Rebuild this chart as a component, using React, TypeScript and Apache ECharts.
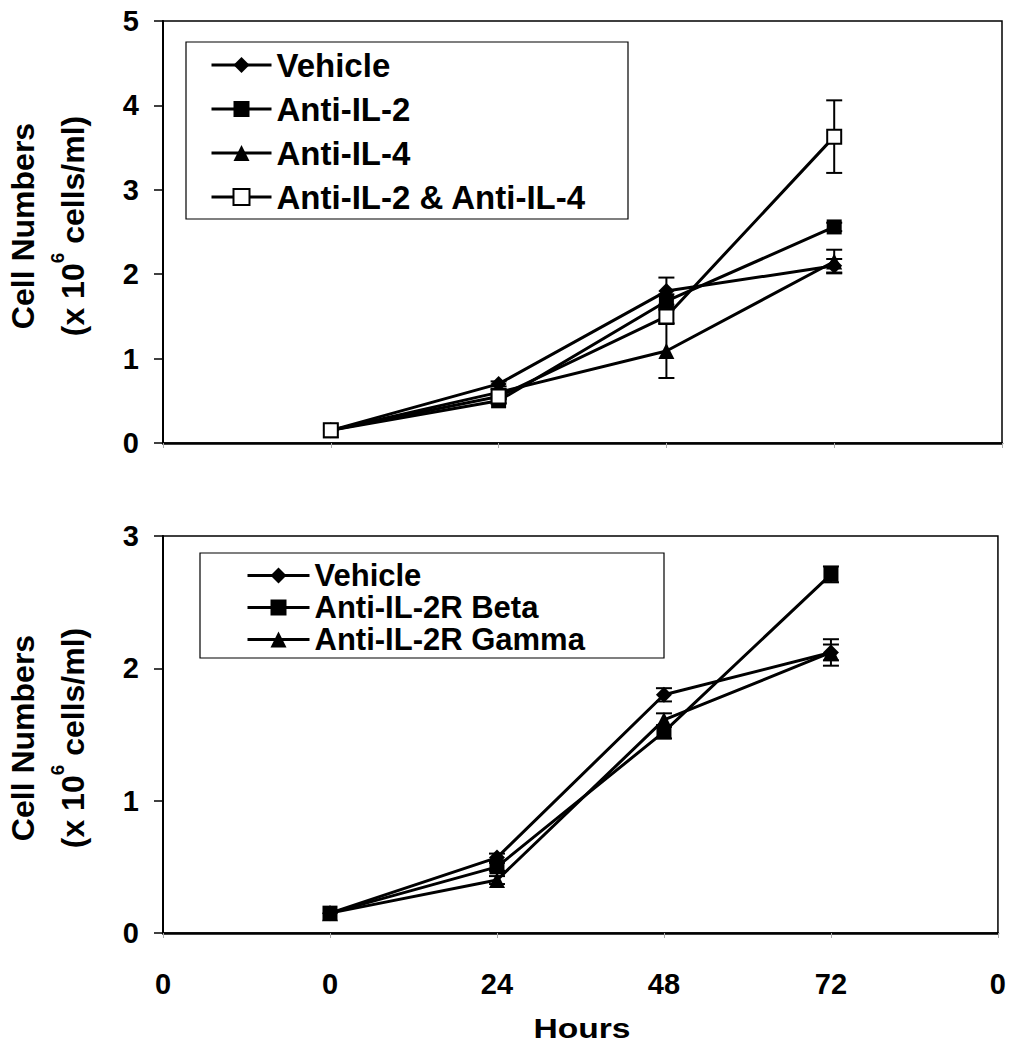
import React, { useEffect, useRef } from "react";
import * as echarts from "echarts";

const hours = ["0", "0", "24", "48", "72", "0"];

// Top panel (cell numbers, x10^6 cells/ml)
const vehicleTop = [null, 0.15, 0.7, 1.8, 2.1, null];
const antiIL2Top = [null, 0.15, 0.5, 1.68, 2.56, null];
const antiIL4Top = [null, 0.15, 0.6, 1.09, 2.15, null];
const comboTop = [null, 0.15, 0.55, 1.5, 3.63, null];
const vehicleTopErr = [0, 0, 0.03, 0.16, 0.08, 0];
const antiIL2TopErr = [0, 0, 0.03, 0.08, 0.05, 0];
const antiIL4TopErr = [0, 0, 0.04, 0.32, 0.14, 0];
const comboTopErr = [0, 0, 0.03, 0.08, 0.43, 0];

// Bottom panel
const vehicleBot = [null, 0.15, 0.57, 1.8, 2.12, null];
const betaBot = [null, 0.15, 0.5, 1.52, 2.71, null];
const gammaBot = [null, 0.15, 0.4, 1.61, 2.12, null];
const vehicleBotErr = [0, 0, 0.03, 0.05, 0.06, 0];
const betaBotErr = [0, 0, 0.03, 0.05, 0.06, 0];
const gammaBotErr = [0, 0, 0.03, 0.05, 0.1, 0];

const topLegend = ["Vehicle", "Anti-IL-2", "Anti-IL-4", "Anti-IL-2 & Anti-IL-4"];
const botLegend = ["Vehicle", "Anti-IL-2R Beta", "Anti-IL-2R Gamma"];

const FONT = "'Liberation Sans', Arial, Helvetica, sans-serif";

function lineSeries(name: string, data: (number | null)[], axis: number, symbol: string, size: number, hollow = false) {
  return {
    type: "line",
    name,
    xAxisIndex: axis,
    yAxisIndex: axis,
    data,
    symbol,
    symbolSize: size,
    showAllSymbol: true,
    connectNulls: false,
    z: 3,
    lineStyle: { color: "#000", width: 3 },
    itemStyle: hollow
      ? { color: "#fff", borderColor: "#000", borderWidth: 2 }
      : { color: "#000", borderColor: "#000", borderWidth: 0 },
  };
}

function errSeries(name: string, data: (number | null)[], err: number[], axis: number, capHalf: number) {
  const pts: number[][] = [];
  data.forEach((v, i) => {
    if (v != null && err[i] > 0) pts.push([i, v, err[i]]);
  });
  return {
    type: "custom",
    name,
    xAxisIndex: axis,
    yAxisIndex: axis,
    z: 2,
    silent: true,
    data: pts,
    renderItem: (params: any, api: any) => {
      const x = api.value(0);
      const v = api.value(1);
      const e = api.value(2);
      const hi = api.coord([x, v + e]);
      const lo = api.coord([x, v - e]);
      const st = { stroke: "#000", lineWidth: 2 };
      return {
        type: "group",
        children: [
          { type: "line", shape: { x1: hi[0], y1: hi[1], x2: lo[0], y2: lo[1] }, style: st },
          { type: "line", shape: { x1: hi[0] - capHalf, y1: hi[1], x2: hi[0] + capHalf, y2: hi[1] }, style: st },
          { type: "line", shape: { x1: lo[0] - capHalf, y1: lo[1], x2: lo[0] + capHalf, y2: lo[1] }, style: st },
        ],
      };
    },
  };
}

function xAxis(grid: number, showLabels: boolean) {
  return {
    type: "category",
    gridIndex: grid,
    data: hours,
    boundaryGap: false,
    axisLine: { show: true, onZero: false, lineStyle: { color: "#000", width: 2.5 } },
    axisTick: { show: true, length: 5, interval: 0, lineStyle: { color: "#aaa", width: 1 } },
    axisLabel: {
      show: showLabels,
      interval: 0,
      margin: 36,
      color: "#000",
      fontSize: 29,
      fontWeight: "bold",
      fontFamily: FONT,
    },
    splitLine: { show: false },
  };
}

function yAxis(grid: number, max: number) {
  return {
    type: "value",
    gridIndex: grid,
    min: 0,
    max,
    interval: 1,
    axisLine: { show: true, lineStyle: { color: "#000", width: 2 } },
    axisTick: { show: true, length: 9, lineStyle: { color: "#000", width: 1.5 } },
    axisLabel: { margin: 24, color: "#000", fontSize: 29, fontWeight: "bold", fontFamily: FONT },
    splitLine: { show: false },
  };
}

function yTitle(cy: number) {
  return {
    type: "text",
    x: 48,
    y: cy,
    rotation: Math.PI / 2,
    silent: true,
    style: {
      text: "{a|Cell Numbers}\n{b|(x 10}{s|6}{b| cells/ml)}",
      align: "center",
      verticalAlign: "middle",
      fill: "#000",
      rich: {
        a: { fontSize: 32, fontWeight: "bold", fontFamily: FONT, lineHeight: 50, fill: "#000" },
        b: { fontSize: 32, fontWeight: "bold", fontFamily: FONT, lineHeight: 50, fill: "#000" },
        s: { fontSize: 19, fontWeight: "bold", fontFamily: FONT, lineHeight: 32, verticalAlign: "top", fill: "#000" },
      },
    },
  };
}

export default function App() {
  const ref = useRef<HTMLDivElement>(null);
  useEffect(() => {
    if (!ref.current) return;
    const chart = echarts.init(ref.current, null, { renderer: "svg" });
    const option: any = {
      animation: false,
      backgroundColor: "#fff",
      textStyle: { fontFamily: FONT },
      grid: [
        { left: 163, top: 21, width: 839, height: 422, show: true, borderColor: "#000", borderWidth: 1.5, backgroundColor: "transparent" },
        { left: 163, top: 536, width: 839, height: 397, show: true, borderColor: "#000", borderWidth: 1.5, backgroundColor: "transparent" },
      ],
      xAxis: [xAxis(0, false), xAxis(1, true)],
      yAxis: [yAxis(0, 5), yAxis(1, 3)],
      legend: [
        {
          data: topLegend,
          orient: "vertical",
          left: 210,
          top: 48,
          padding: 0,
          itemWidth: 60,
          itemHeight: 20,
          itemGap: 10,
          selectedMode: false,
          lineStyle: { width: 3, color: "#000" },
          textStyle: { fontSize: 33, fontWeight: "bold", fontFamily: FONT, color: "#000", lineHeight: 34 },
        },
        {
          data: botLegend,
          orient: "vertical",
          left: 246,
          top: 560,
          padding: 0,
          itemWidth: 62,
          itemHeight: 20,
          itemGap: 1,
          selectedMode: false,
          lineStyle: { width: 3, color: "#000" },
          textStyle: { fontSize: 31, fontWeight: "bold", fontFamily: FONT, color: "#000", lineHeight: 31 },
        },
      ],
      graphic: [
        { type: "rect", shape: { x: 186, y: 42, width: 442, height: 177 }, style: { fill: "none", stroke: "#000", lineWidth: 1.2 }, silent: true },
        { type: "rect", shape: { x: 200, y: 553, width: 464, height: 105 }, style: { fill: "none", stroke: "#000", lineWidth: 1.2 }, silent: true },
        yTitle(226),
        yTitle(738),
        {
          type: "text",
          x: 582,
          y: 1028,
          scaleX: 1.2,
          silent: true,
          style: { text: "Hours", align: "center", verticalAlign: "middle", fontSize: 28, fontWeight: "bold", fontFamily: FONT, fill: "#000" },
        },
      ],
      series: [
        errSeries("errVehicleTop", vehicleTop, vehicleTopErr, 0, 8),
        errSeries("errIL2Top", antiIL2Top, antiIL2TopErr, 0, 8),
        errSeries("errIL4Top", antiIL4Top, antiIL4TopErr, 0, 8),
        errSeries("errComboTop", comboTop, comboTopErr, 0, 8),
        lineSeries("Vehicle", vehicleTop, 0, "diamond", 16),
        lineSeries("Anti-IL-2", antiIL2Top, 0, "rect", 15),
        lineSeries("Anti-IL-4", antiIL4Top, 0, "triangle", 16),
        lineSeries("Anti-IL-2 & Anti-IL-4", comboTop, 0, "rect", 14, true),
        errSeries("errVehicleBot", vehicleBot, vehicleBotErr, 1, 8),
        errSeries("errBetaBot", betaBot, betaBotErr, 1, 8),
        errSeries("errGammaBot", gammaBot, gammaBotErr, 1, 8),
        lineSeries("Vehicle", vehicleBot, 1, "diamond", 16),
        lineSeries("Anti-IL-2R Beta", betaBot, 1, "rect", 15),
        lineSeries("Anti-IL-2R Gamma", gammaBot, 1, "triangle", 16),
      ],
    };
    chart.setOption(option);
    return () => chart.dispose();
  }, []);
  return <div ref={ref} style={{ position: "absolute", left: 0, top: 0, width: 1009, height: 1047 }} />;
}
